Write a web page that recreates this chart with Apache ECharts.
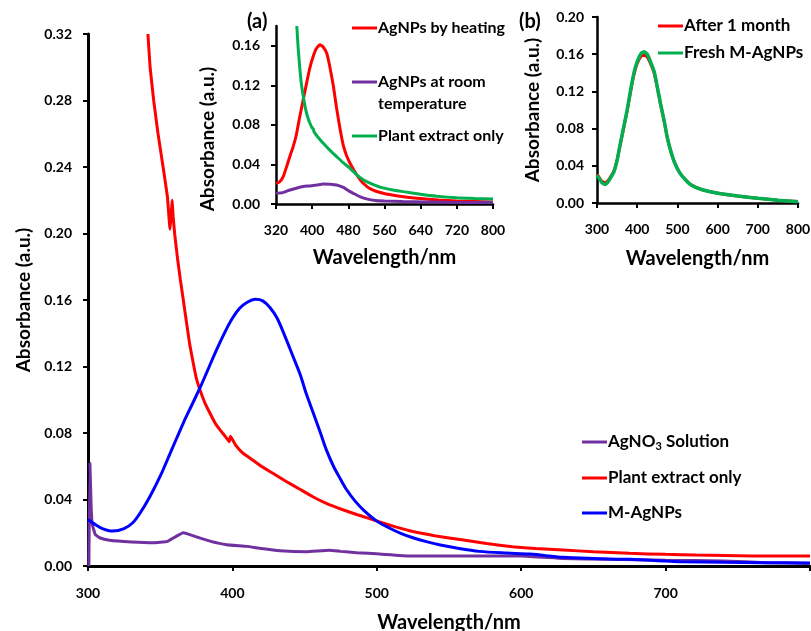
<!DOCTYPE html>
<html>
<head>
<meta charset="utf-8">
<script src="https://cdn.jsdelivr.net/npm/echarts@6/dist/echarts.min.js"></script>
<style>
html,body{margin:0;padding:0;background:#fff;}
#chart{width:811px;height:631px;}
</style>
</head>
<body>
<div id="chart"></div>
<script>
// ---------- Main chart data ----------
const mainXTicks = [300, 400, 500, 600, 700];
const agno3X = [300.6,301.3,302.2,303,305,308,315,330,345,355,366,375,385,396,410,420,433,451,467,475,486,502,523,560,600,629,660,700,740,770,800];
const agno3Y = [0,0.062,0.035,0.025,0.019,0.017,0.0155,0.0145,0.014,0.0148,0.020,0.0175,0.0148,0.0128,0.0118,0.0105,0.0092,0.0086,0.0095,0.0088,0.008,0.0072,0.006,0.006,0.006,0.0045,0.004,0.0035,0.003,0.002,0.0015];

const plantX = [341.5,343,345.5,348.5,352,355,356.8,357.6,358.2,359,360,362,364,366,368.3,370.5,372.9,375,377.5,381,384.4,388,391.3,395,397.8,398.7,402,407,412,420,428,437,447,456,465,476,486,495,502,513,525,540,560,576,594,610,629,650,675,700,721,760,800];
const plantY = [0.32,0.30,0.28,0.26,0.24,0.222,0.2025,0.211,0.22,0.21,0.20,0.185,0.172,0.16,0.146,0.133,0.122,0.113,0.106,0.098,0.092,0.086,0.082,0.078,0.0748,0.078,0.073,0.068,0.065,0.06,0.0558,0.051,0.046,0.0415,0.0377,0.034,0.031,0.0285,0.0265,0.0235,0.0207,0.0182,0.0156,0.0135,0.0116,0.0105,0.0096,0.0086,0.0076,0.007,0.0066,0.006,0.006];

const magX = [300,305,310,317,325,331,336,343,350,358,366,372,378,384,389,395,400,405,410,416,421,426,431,436,442,447,451,456,461,465,470,475,479,485,491,500,509,517,525,535,544,557,571,590,606,629,650,675,700,710,740,767,800];
const magY = [0.028,0.025,0.0225,0.021,0.0225,0.026,0.0317,0.042,0.054,0.070,0.086,0.097,0.108,0.12,0.13,0.141,0.149,0.155,0.1585,0.1604,0.1595,0.1555,0.149,0.139,0.126,0.115,0.104,0.092,0.08,0.07,0.06,0.052,0.046,0.039,0.0335,0.027,0.0227,0.0195,0.017,0.0145,0.0126,0.0105,0.0088,0.0078,0.0072,0.0052,0.0045,0.004,0.003,0.0026,0.0022,0.002,0.0018];

// ---------- Inset (a) data ----------
const aYTicks = [0, 0.04, 0.08, 0.12, 0.16];
const heatX = [320,327,336,345,352,358,365,372,380,388,395,402,409,417,424,432,439,447,454,462,469,476,484,498,513,530,557,590,631,680,720,760,800];
const heatY = [0.021,0.022,0.0277,0.04,0.05,0.058,0.07,0.087,0.105,0.123,0.138,0.149,0.157,0.161,0.159,0.1526,0.139,0.119,0.097,0.075,0.059,0.049,0.041,0.03,0.021,0.015,0.0108,0.008,0.0057,0.004,0.003,0.0025,0.002];
const roomX = [320,335,351,365,380,395,410,424.6,440,454,470,482,491,505,520,540,560,601,700,800];
const roomY = [0.0108,0.0115,0.0142,0.016,0.0176,0.0183,0.0192,0.0203,0.02,0.0192,0.0165,0.013,0.0108,0.0075,0.0052,0.0035,0.003,0.0025,0.0018,0.0015];
const plantAX = [366,369,373,376,380.4,385,390,395,400,402.5,404,412,424.6,440,454,468,483.7,500,515,528,550,575,601.6,640,675.5,720,760,800];
const plantAY = [0.18,0.158,0.1357,0.122,0.1087,0.097,0.088,0.0817,0.077,0.076,0.073,0.068,0.0614,0.054,0.048,0.042,0.0361,0.029,0.024,0.021,0.017,0.0145,0.0125,0.0098,0.0078,0.0062,0.0055,0.005];

// ---------- Inset (b) data ----------
const monthX = [300,306,312,320,328,335,342.5,350,358,367.5,375,385,392.5,400,410,417.5,425,433,442.5,450,458,467.5,475,484,492.5,505,520,534,560,601,650,700,750,800];
const monthY = [0.031,0.027,0.0235,0.022,0.0245,0.029,0.035,0.046,0.063,0.083,0.099,0.123,0.139,0.15,0.158,0.159,0.157,0.15,0.139,0.124,0.106,0.087,0.07,0.055,0.044,0.033,0.025,0.0195,0.0145,0.0105,0.0075,0.005,0.003,0.0015];
const freshX = [300,306,312,320,328,335,342.5,350,358,367.5,375,385,392.5,400,410,417.5,425,433,442.5,450,458,467.5,475,484,492.5,505,520,534,560,601,650,700,750,800];
const freshY = [0.030,0.026,0.022,0.020,0.023,0.028,0.0337,0.046,0.064,0.084,0.1,0.125,0.141,0.152,0.161,0.1627,0.16,0.152,0.141,0.125,0.107,0.0874,0.07,0.055,0.044,0.033,0.025,0.0194,0.0145,0.0104,0.0075,0.005,0.003,0.0014];

const zip = (xs, ys) => xs.map((x, i) => [x, ys[i]]);
const FONT = 'Lato';
const BLACK = '#000';
const C_RED = '#ff0000', C_BLUE = '#0000ff', C_PURPLE = '#7030a0', C_GREEN = '#00b050';

function xAxisCfg(gridIndex, min, max, interval, lineW, labelVals, nameGap, margin) {
  return {
    type: 'value', gridIndex, min, max, interval,
    name: 'Wavelength/nm', nameLocation: 'middle', nameGap,
    nameTextStyle: {fontFamily: FONT, fontWeight: 'bold', fontSize: 20, color: BLACK},
    axisLine: {show: true, onZero: false, lineStyle: {color: BLACK, width: lineW}},
    axisTick: {show: true, inside: false, length: 5, lineStyle: {color: BLACK, width: 2}},
    axisLabel: {show: true, margin, fontFamily: FONT, fontWeight: 'bold', fontSize: 14, color: BLACK,
      customValues: labelVals},
    splitLine: {show: false}
  };
}
function yAxisCfg(gridIndex, max, lineW, margin, nameGap, tickVals, namePad) {
  const ax = {
    type: 'value', gridIndex, min: 0, max, interval: 0.04,
    name: 'Absorbance (a.u.)', nameLocation: 'middle', nameGap,
    nameTextStyle: {fontFamily: FONT, fontWeight: 'bold', fontSize: 19, color: BLACK, padding: namePad},
    axisLine: {show: true, onZero: false, lineStyle: {color: BLACK, width: lineW}},
    axisTick: {show: true, inside: false, length: 5, lineStyle: {color: BLACK, width: 2}},
    axisLabel: {show: true, margin, fontFamily: FONT, fontWeight: 'bold', fontSize: 14, color: BLACK,
      formatter: v => v.toFixed(2)},
    splitLine: {show: false}
  };
  if (tickVals) { ax.axisTick.customValues = tickVals; ax.axisLabel.customValues = tickVals; }
  return ax;
}
function line(name, xi, yi, xs, ys, color, width, z, smooth) {
  return {
    name, type: 'line', xAxisIndex: xi, yAxisIndex: yi, data: zip(xs, ys),
    showSymbol: false, symbol: 'none', smooth: smooth === undefined ? 0.15 : smooth, clip: true, z: z || 2,
    color, lineStyle: {color, width}, itemStyle: {color}
  };
}
function legend(name, left, top, fontSize, formatter, rich) {
  const lg = {
    data: [name], left, top, orient: 'vertical', icon: 'rect', itemWidth: 25, itemHeight: 3,
    padding: 0, itemGap: 0, selectedMode: false,
    textStyle: {fontFamily: FONT, fontWeight: 'bold', fontSize, color: BLACK, lineHeight: 22, padding: [0,0,0,-4]}
  };
  if (formatter) lg.formatter = formatter;
  if (rich) lg.textStyle.rich = rich;
  return lg;
}

const chart = echarts.init(document.getElementById('chart'), null, {renderer: 'canvas'});
const sub = {
  a: {fontFamily: FONT, fontWeight: 'bold', fontSize: 17, color: BLACK, lineHeight: 22},
  s: {fontFamily: FONT, fontWeight: 'bold', fontSize: 11, color: BLACK, lineHeight: 22, padding: [9,0,0,0]}
};
chart.setOption({
  animation: false,
  backgroundColor: '#fff',
  grid: [
    {left: 88, top: 34, width: 722, height: 532, outerBoundsMode: 'none', containLabel: false},
    {left: 276, top: 26, width: 217, height: 178, outerBoundsMode: 'none', containLabel: false},
    {left: 597, top: 17, width: 201, height: 186, outerBoundsMode: 'none', containLabel: false}
  ],
  xAxis: [
    xAxisCfg(0, 300, 800, 100, 3, mainXTicks, 47, 20),
    xAxisCfg(1, 320, 800, 80, 2.5, undefined, 44, 19),
    xAxisCfg(2, 300, 800, 100, 2.5, undefined, 46, 19)
  ],
  yAxis: [
    yAxisCfg(0, 0.32, 3, 16, 55, null, [0,0,0,0]),
    yAxisCfg(1, 0.18, 2.5, 16, 59, aYTicks, [0,48,0,0]),
    yAxisCfg(2, 0.20, 2.5, 13, 55, null, [0,0,0,0])
  ],
  legend: [
    legend('AgNO3 Solution', 582, 431, 17, () => '{a|AgNO}{s|3}{a| Solution}', sub),
    legend('Plant extract only', 582, 467, 17),
    legend('M-AgNPs', 582, 502, 17),
    legend('AgNPs by heating', 352, 17, 16),
    legend('AgNPs at room temperature', 352, 49, 16, () => '\nAgNPs at room\ntemperature'),
    legend('Plant extract only ', 352, 125, 16, () => 'Plant extract only'),
    legend('After 1 month', 658, 15, 17),
    legend('Fresh M-AgNPs', 658, 42, 17)
  ],
  graphic: [
    {type: 'text', left: 247, top: 12, style: {text: '(a)', fontFamily: FONT, fontWeight: 'bold', fontSize: 20, fill: BLACK}},
    {type: 'text', left: 519, top: 12, style: {text: '(b)', fontFamily: FONT, fontWeight: 'bold', fontSize: 20, fill: BLACK}}
  ],
  series: [
    line('AgNO3 Solution', 0, 0, agno3X, agno3Y, C_PURPLE, 3, 2, 0.1),
    line('Plant extract only', 0, 0, plantX, plantY, C_RED, 3, 2, 0.1),
    line('M-AgNPs', 0, 0, magX, magY, C_BLUE, 3, 2, 0.3),
    line('AgNPs by heating', 1, 1, heatX, heatY, C_RED, 3),
    line('AgNPs at room temperature', 1, 1, roomX, roomY, C_PURPLE, 3),
    line('Plant extract only ', 1, 1, plantAX, plantAY, C_GREEN, 3),
    line('After 1 month', 2, 2, monthX, monthY, C_RED, 3, 2),
    line('Fresh M-AgNPs', 2, 2, freshX, freshY, C_GREEN, 3.5, 3)
  ]
});
</script>
</body>
</html>
